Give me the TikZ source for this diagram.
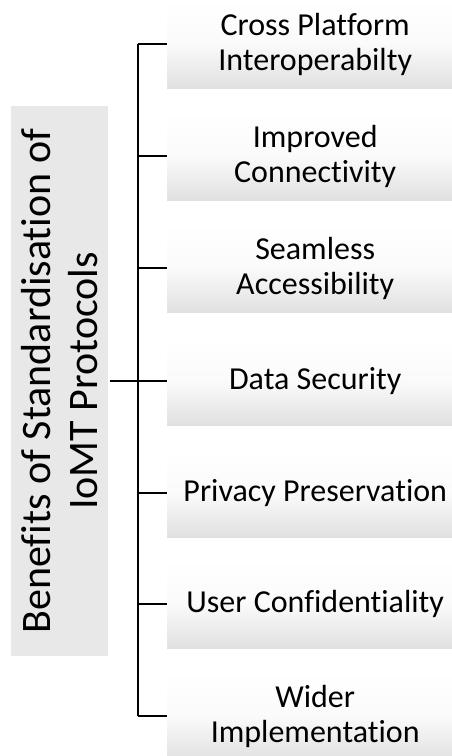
\documentclass[tikz,border=0pt]{standalone}
\usepackage{fontspec}
\setmainfont{Carlito}[Ligatures=NoCommon]
\usepackage{tikz}
\usetikzlibrary{positioning}
\definecolor{boxgray}{rgb}{0.88,0.88,0.88}
\definecolor{rootgray}{rgb}{0.91,0.91,0.91}

\tikzset{
  benefit/.style={anchor=west,minimum width=296,minimum height=88,inner sep=0pt,
    top color=white,bottom color=boxgray,middle color=white!85!boxgray,align=center,
    font=\fontsize{32}{35}\selectfont},
  rootbox/.style={rotate=90,minimum width=552,minimum height=99,inner sep=0pt,
    fill=rootgray,draw=white,line width=1.5pt,align=center,
    font=\fontsize{42}{47}\selectfont},
  branch/.style={line width=1.6pt},
  stem/.style={line width=2.6pt}
}

\begin{document}
\begin{tikzpicture}[line cap=butt,line join=miter,x=1pt,y=-1pt]
\useasboundingbox (0,0) rectangle (452,756);
\clip (0,0) rectangle (452,756);
\node[rootbox] (root) at (59.5,381) {Benefits of Standardisation of\\IoMT Protocols};
\node[benefit] (b1) at (167,44) {Cross Platform\\Interoperabilty};
\node[benefit] (b2) at (167,156) {Improved\\Connectivity};
\node[benefit] (b3) at (167,268) {Seamless\\Accessibility};
\node[benefit] (b4) at (167,381) {Data Security};
\node[benefit] (b5) at (167,493) {Privacy Preservation};
\node[benefit] (b6) at (167,604) {User Confidentiality};
\node[benefit] (b7) at (167,716) {Wider\\Implementation};
\coordinate (fork) at (138,381);
\draw[stem] (root.south) -- (fork);
\draw[branch] (fork |- b1.west) -- (fork |- b7.west);
\foreach \i in {1,...,7}
  \draw[branch] (fork |- b\i.west) -- (b\i.west);
\end{tikzpicture}
\end{document}
